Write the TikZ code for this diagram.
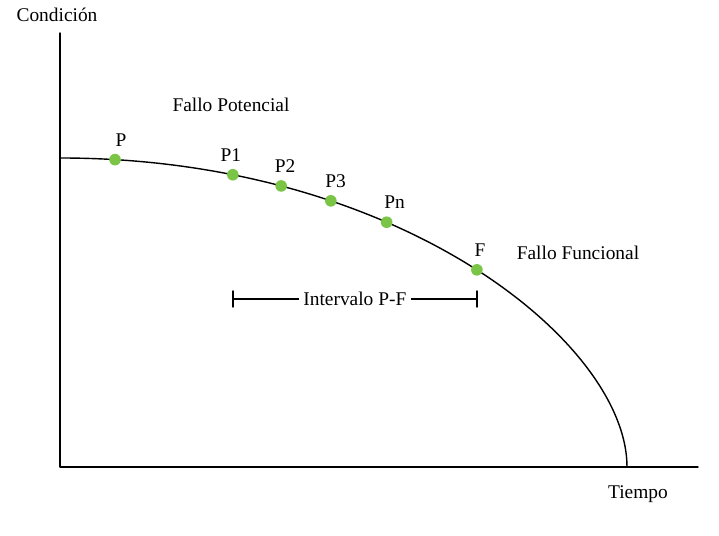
\documentclass[tikz,border=0pt]{standalone}
\usepackage{fontspec}
\setmainfont{Liberation Serif}
\usetikzlibrary{positioning}
\definecolor{verdepunto}{RGB}{122,196,70}
\tikzset{punto/.style={circle,fill=verdepunto,inner sep=0pt,minimum size=0.29cm},
	etiq/.style={label distance=1pt}}

\begin{document}
\begin{tikzpicture}[font=\fontsize{13.8}{16}\selectfont, line join=round, line cap=round, line width=1pt]
			\useasboundingbox (-1.5,-1.725) rectangle (16.475,11.675);
			\coordinate (O) at (0,0);
			\coordinate (ytop) at (0,10.85);
			\coordinate (xend) at (15.95,0);
			\draw (ytop)--(O)--(xend);
			\node (cond) at (-0.075,11.3) {Condición};
			\node (tiempo) at (14.45,-0.675) {Tiempo};
			% curva P-F
			\draw (0,7.725) .. controls (8.5,7.725) and (14.175,3.09) .. (14.175,0)
			node[punto,pos=0.055,label={[etiq,xshift=0.15cm]above:P}] (p) {}
			node[punto,pos=0.181,label={[etiq,xshift=-0.05cm]above:P1}] (p1) {}
			node[punto,pos=0.237,label={[etiq,xshift=0.1cm]above:P2}] (p2) {}
			node[punto,pos=0.298,label={[etiq,xshift=0.12cm]above:P3}] (p3) {}
			node[punto,pos=0.372,label={[etiq,xshift=0.2cm]above:Pn}] (pn) {}
			node[punto,pos=0.51,label={[etiq,xshift=0.08cm]above:F}] (f) {};
			\node (potencial) at (4.275,9.05) {Fallo Potencial};
			\node (funcional) at (12.95,5.35) {Fallo Funcional};
			% intervalo
			\coordinate (nivel) at (0,4.2);
			\coordinate (ia) at (p1 |- nivel);
			\coordinate (ib) at (f |- nivel);
			\draw (ia)--(ib) node[midway,fill=white,inner sep=3pt] (intervalo) {Intervalo P-F};
			\draw ([yshift=-0.2cm]ia)--([yshift=0.2cm]ia);
			\draw ([yshift=-0.2cm]ib)--([yshift=0.2cm]ib);
		\end{tikzpicture}
\end{document}
